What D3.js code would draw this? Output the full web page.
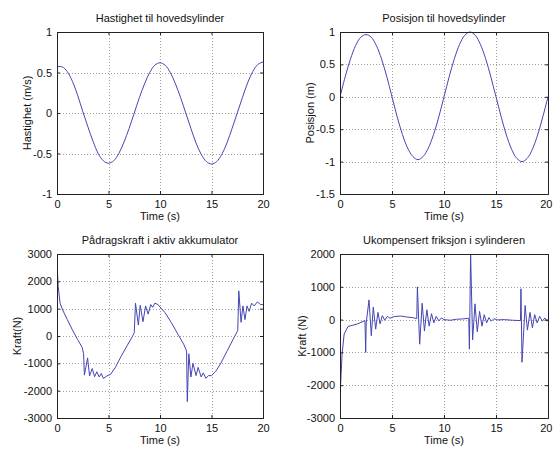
<!DOCTYPE html>
<html><head><meta charset="utf-8">
<script src="https://cdn.jsdelivr.net/npm/d3@7"></script>
<style>
html,body{margin:0;padding:0;background:#fff;}
svg{display:block;font-family:"Liberation Sans",Arial,sans-serif;}
</style></head>
<body><svg id="c" width="553" height="449"></svg>
<script>
// ---------- data ----------
const xTicks = [0, 5, 10, 15, 20];
const tStep = [0,0.5,1,1.5,2,2.5,3,3.5,4,4.5,5,5.5,6,6.5,7,7.5,8,8.5,9,9.5,10,10.5,11,11.5,12,12.5,13,13.5,14,14.5,15,15.5,16,16.5,17,17.5,18,18.5,19,19.5,20];
const velocity = [0.57,0.57,0.51,0.39,0.22,0.02,-0.17,-0.35,-0.5,-0.59,-0.62,-0.59,-0.5,-0.36,-0.19,0.0,0.19,0.36,0.5,0.59,0.62,0.59,0.5,0.36,0.19,0.0,-0.19,-0.37,-0.51,-0.6,-0.63,-0.6,-0.51,-0.37,-0.19,0.0,0.19,0.37,0.51,0.6,0.63];
const position = [0,0.31,0.58,0.79,0.92,0.96,0.92,0.79,0.58,0.31,0,-0.31,-0.58,-0.79,-0.92,-0.97,-0.92,-0.79,-0.58,-0.31,0,0.31,0.59,0.81,0.95,1.0,0.95,0.81,0.59,0.31,0,-0.31,-0.59,-0.81,-0.95,-1.0,-0.95,-0.81,-0.59,-0.31,0];

const forceT = [0.03,0.12,0.3,0.55,1.0,1.5,2.0,2.45,2.58,2.66,2.8,2.97,3.16,3.42,3.65,3.87,4.1,4.3,4.5,4.85,5.2,5.65,6.2,6.8,7.3,7.5,7.62,7.9,8.08,8.35,8.6,8.85,9.1,9.3,9.5,9.8,10.0,10.5,11.1,11.75,12.3,12.58,12.65,12.8,13.0,13.2,13.5,13.7,14.0,14.2,14.45,14.7,15.0,15.4,15.9,16.5,17.1,17.55,17.65,17.87,18.05,18.25,18.45,18.65,18.9,19.15,19.45,19.75,20.0];
const forceY = [2450,1800,1200,950,600,220,-130,-420,-650,-1430,-1150,-800,-1460,-1190,-1490,-1310,-1500,-1370,-1550,-1460,-1400,-1160,-760,-360,-30,120,1200,400,1120,520,1100,800,1150,1050,1200,1150,1060,850,490,60,-300,-550,-2400,-650,-1500,-1000,-1450,-1150,-1500,-1350,-1550,-1450,-1450,-1300,-1000,-560,-120,200,1650,500,1100,600,1100,900,1200,1100,1250,1150,1150];

const fricT = [0.03,0.1,0.2,0.4,0.77,1.7,2.4,2.47,2.52,2.79,3.01,3.2,3.43,3.65,3.85,4.07,4.3,4.55,4.8,5.2,5.8,6.4,7.0,7.38,7.44,7.66,7.9,8.12,8.35,8.57,8.8,9.02,9.25,9.5,9.75,10.0,10.6,11.2,11.8,12.38,12.44,12.56,12.75,12.98,13.2,13.42,13.65,13.87,14.1,14.32,14.55,14.8,15.1,15.8,16.6,17.35,17.4,17.5,17.8,18.02,18.27,18.5,18.72,18.95,19.2,19.45,19.7,19.9,20.0];
const fricY = [-2200,-1700,-1050,-440,-210,-130,-30,-1000,-100,600,-490,380,-290,220,-130,120,-20,100,40,90,110,80,60,30,1000,-750,500,-350,300,-200,180,-100,100,-40,50,0,-20,10,20,40,-900,2000,-620,480,-370,250,-200,150,-100,60,-50,30,-10,0,-20,-30,940,-1300,430,-320,220,-250,150,-100,100,-50,50,-50,0];

const panels = [
  {title:"Hastighet til hovedsylinder", ylabel:"Hastighet (m/s)", x0:57, x1:263, y0:32, y1:194,
   ydom:[-1,1], yticks:[-1,-0.5,0,0.5,1], t:tStep, v:velocity, smooth:true, yLabOff:26},
  {title:"Posisjon til hovedsylinder", ylabel:"Posisjon (m)", x0:340, x1:548, y0:32, y1:194,
   ydom:[-1.5,1], yticks:[-1.5,-1,-0.5,0,0.5,1], t:tStep, v:position, smooth:true, yLabOff:26},
  {title:"Pådragskraft i aktiv akkumulator", ylabel:"Kraft(N)", x0:57, x1:263, y0:254, y1:418,
   ydom:[-3000,3000], yticks:[-3000,-2000,-1000,0,1000,2000,3000], t:forceT, v:forceY, smooth:false, yLabOff:36},
  {title:"Ukompensert friksjon i sylinderen", ylabel:"Kraft (N)", x0:340, x1:548, y0:254, y1:418,
   ydom:[-3000,2000], yticks:[-3000,-2000,-1000,0,1000,2000], t:fricT, v:fricY, smooth:false, yLabOff:34}
];

const svg = d3.select("#c");
svg.append("rect").attr("width",553).attr("height",449).attr("fill","#fff");
const defs = svg.append("defs");

panels.forEach((p,i)=>{
  const x = d3.scaleLinear().domain([0,20]).range([p.x0,p.x1]);
  const y = d3.scaleLinear().domain(p.ydom).range([p.y1,p.y0]);
  const g = svg.append("g");
  // grid
  g.append("g").selectAll("line").data(xTicks.slice(1,-1)).join("line")
    .attr("x1",d=>Math.round(x(d))+0.5).attr("x2",d=>Math.round(x(d))+0.5).attr("y1",p.y0).attr("y2",p.y1)
    .attr("stroke","#a0a0a0").attr("stroke-width",1).attr("stroke-dasharray","1,2");
  g.append("g").selectAll("line").data(p.yticks.slice(1,-1)).join("line")
    .attr("y1",d=>Math.round(y(d))+0.5).attr("y2",d=>Math.round(y(d))+0.5).attr("x1",p.x0).attr("x2",p.x1)
    .attr("stroke","#a0a0a0").attr("stroke-width",1).attr("stroke-dasharray","1,2");
  // clip
  defs.append("clipPath").attr("id","cp"+i).append("rect")
    .attr("x",p.x0).attr("y",p.y0-1).attr("width",p.x1-p.x0).attr("height",p.y1-p.y0+2);
  // line
  const line = d3.line().x((d,k)=>x(p.t[k])).y(d=>y(d))
    .curve(p.smooth ? d3.curveCatmullRom : d3.curveLinear);
  g.append("path").datum(p.v).attr("d",line).attr("fill","none")
    .attr("stroke","#4545b4").attr("stroke-width",1).attr("clip-path","url(#cp"+i+")");
  // axes (bottom/left with labels, top/right box)
  const ax = d3.axisBottom(x).tickValues(xTicks).tickSize(-3).tickPadding(6).tickFormat(d3.format("d"));
  const axg = g.append("g").attr("transform",`translate(0,${p.y1})`).call(ax);
  const ay = d3.axisLeft(y).tickValues(p.yticks).tickSize(-3).tickPadding(5).tickFormat(d=>String(d));
  const ayg = g.append("g").attr("transform",`translate(${p.x0},0)`).call(ay);
  const axt = g.append("g").attr("transform",`translate(0,${p.y0})`).call(d3.axisTop(x).tickValues(xTicks).tickSize(-3).tickFormat(""));
  const ayr = g.append("g").attr("transform",`translate(${p.x1},0)`).call(d3.axisRight(y).tickValues(p.yticks).tickSize(-3).tickFormat(""));
  [axg,ayg,axt,ayr].forEach(s=>{
    s.select(".domain").attr("stroke","#222");
    s.selectAll(".tick line").attr("stroke","#222");
    s.selectAll("text").attr("fill","#111").style("font-size","11px").style("font-family","Liberation Sans, Arial, sans-serif");
  });
  // keep the last x tick label inside the canvas for right-hand panels
  if (p.x1 > 540) {
    axg.selectAll(".tick text").filter(d=>d===20).attr("text-anchor","end").attr("dx", (552 - p.x1) + "px");
  }
  // title
  g.append("text").attr("x",(p.x0+p.x1)/2).attr("y",p.y0-10).attr("text-anchor","middle")
    .attr("font-size","11px").attr("fill","#111").text(p.title);
  // x label
  g.append("text").attr("x",(p.x0+p.x1)/2).attr("y",p.y1+26).attr("text-anchor","middle")
    .attr("font-size","11px").attr("fill","#111").text("Time (s)");
  // y label
  g.append("text").attr("transform",`translate(${p.x0-p.yLabOff},${(p.y0+p.y1)/2}) rotate(-90)`)
    .attr("text-anchor","middle").attr("font-size","11px").attr("fill","#111").text(p.ylabel);
});
</script></body></html>
